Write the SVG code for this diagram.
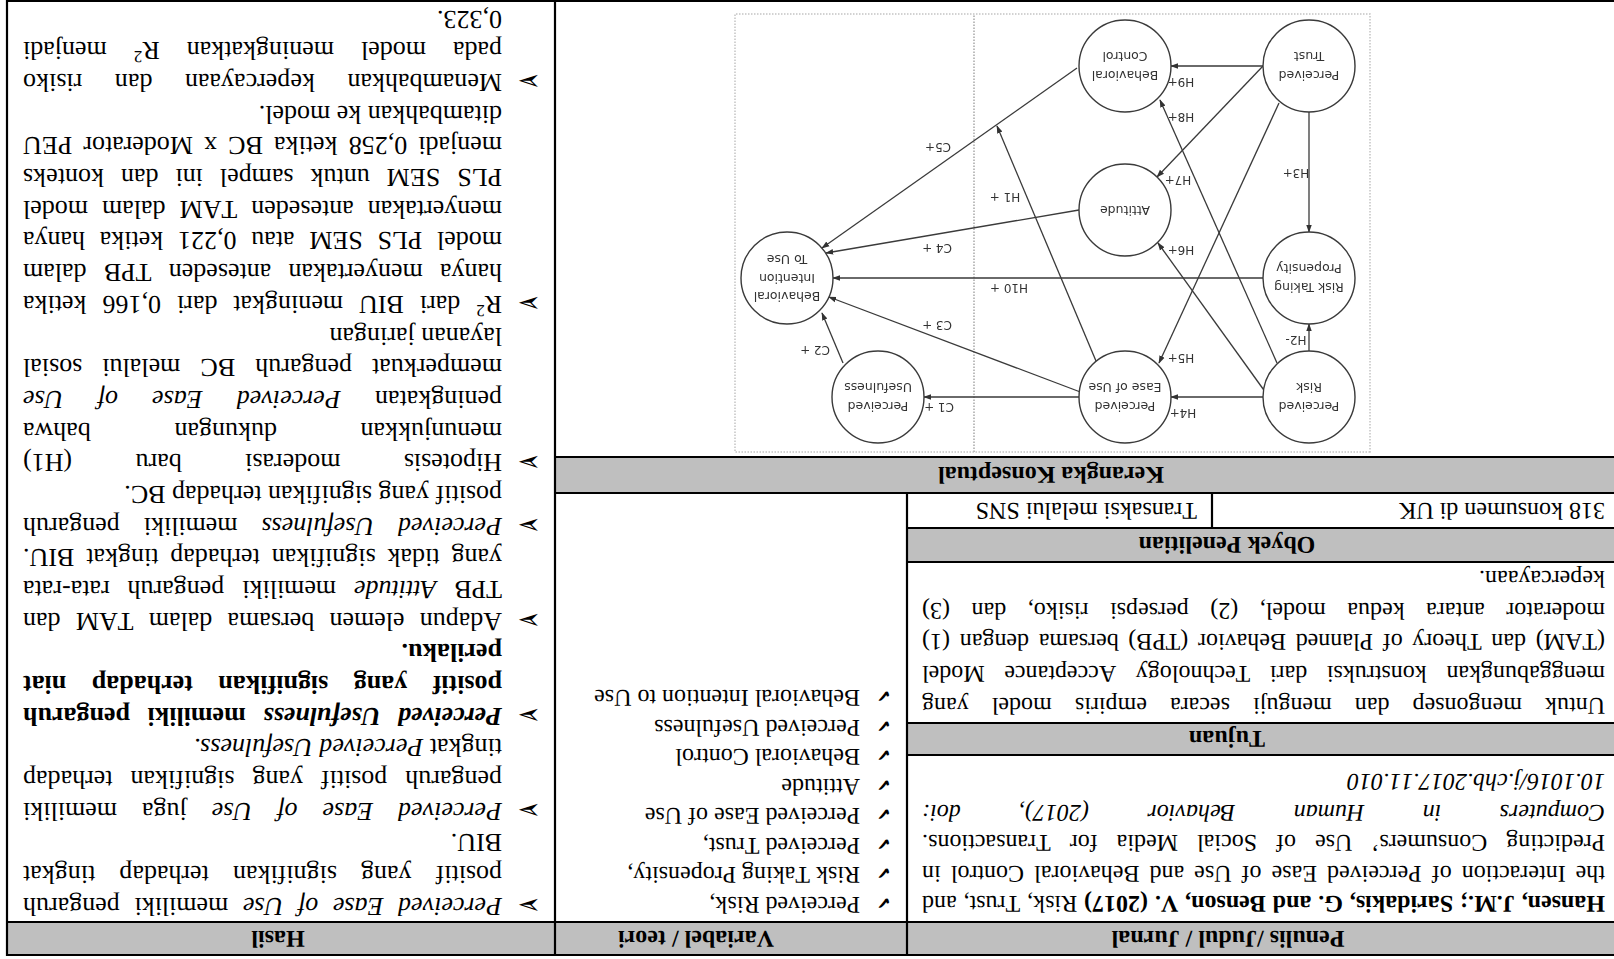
<svg xmlns="http://www.w3.org/2000/svg" width="1614" height="959" viewBox="0 0 1614 959">
<style>
.t{font-family:"Liberation Serif","Times New Roman",serif;font-size:24px;fill:#000;font-kerning:none;font-variant-ligatures:none;text-rendering:geometricPrecision}
.hs{font-size:26px}
.i{font-style:italic}
.b{font-weight:bold}
.hd{font-weight:bold;text-anchor:middle}
.sym{font-family:"DejaVu Sans",sans-serif;fill:#000}
.fill{fill:#bfbfbf}
.grid{stroke:#000;stroke-width:2.2;fill:none}
.e{stroke:#3a3a3a;stroke-width:1.3;fill:none;marker-end:url(#ah)}
.node circle{fill:#fff;stroke:#3a3a3a;stroke-width:1.4}
.node text,.lbl{font-family:"DejaVu Sans",Verdana,sans-serif;font-size:12.5px;fill:#333;text-anchor:middle}
.lbl{font-size:12px}
</style>
<defs>
<marker id="ah" viewBox="0 0 10 10" refX="9" refY="5" markerWidth="8" markerHeight="8" markerUnits="userSpaceOnUse" orient="auto">
<path d="M0,1.5 L10,5 L0,8.5 z" fill="#333"/>
</marker>
<filter id="soft" x="-2%" y="-2%" width="104%" height="104%"><feGaussianBlur stdDeviation="0.45"/></filter>
</defs>
<rect width="1614" height="959" fill="#fff"/>
<g transform="rotate(180 807 479.5)">
<!-- table shading and rules -->
<g id="table">
<rect class="fill" x="0" y="4" width="1607" height="33"/>
<rect class="fill" x="0" y="204" width="707" height="32"/>
<rect class="fill" x="0" y="397" width="707" height="34"/>
<rect class="fill" x="0" y="466" width="1059" height="36"/>
<path class="grid" d="M0,4H1607V958H0M0,37H1607M0,204H707M0,236H707M0,397H707M0,431H707M0,466H1059M0,502H1059M1059,4V958M707,4V466M402,431V466"/>
</g>
<!-- header cells -->
<g id="headers">
<text class="t hd" x="386" y="28.5">Penulis /Judul / Jurnal</text>
<text class="t hd" x="918" y="28.5">Variabel / teori</text>
<text class="t hd" x="1336" y="28.5">Hasil</text>
<text class="t hd" x="387" y="228">Tujuan</text>
<text class="t hd" x="387" y="422">Obyek Penelitian</text>
<text class="t hd" x="563" y="492">Kerangka Konseptual</text>
</g>
<!-- citation -->
<g id="citation">
<text class="t" x="9" y="63" word-spacing="0.89"><tspan class="b">Hansen, J.M.; Saridakis, G. and Benson, V. (2017)</tspan> Risk, Trust, and</text>
<text class="t" x="9" y="93.5" word-spacing="4.05">the Interaction of Perceived Ease of Use and Behavioral Control in</text>
<text class="t" x="9" y="124" word-spacing="13.01">Predicting Consumers’ Use of Social Media for Transactions.</text>
<text class="t i" x="9" y="154.5" word-spacing="52.34">Computers in Human Behavior (2017), doi:</text>
<text class="t i" x="9" y="185">10.1016/j.chb.2017.11.010</text>
</g>
<!-- purpose -->
<g id="tujuan">
<text class="t" x="9" y="261" word-spacing="17.11">Untuk mengonsep dan menguji secara empiris model yang</text>
<text class="t" x="9" y="293" word-spacing="13.56">menggabungkan konstruksi dari Technology Acceptance Model</text>
<text class="t" x="9" y="325" word-spacing="3.68">(TAM) dan Theory of Planned Behavior (TPB) bersama dengan (1)</text>
<text class="t" x="9" y="356.5" word-spacing="15.56">moderator antara kedua model, (2) persepsi risiko, dan (3)</text>
<text class="t" x="9" y="388">kepercayaan.</text>
</g>
<!-- research object -->
<g id="obyek">
<text class="t" x="9" y="456.5">318 konsumen di UK</text>
<text class="t" x="417" y="456.5">Transaksi melalui SNS</text>
</g>
<!-- variables -->
<g id="variabel">
<g class="sym" font-size="17">
<text x="723" y="62.5">✔</text><text x="723" y="92">✔</text><text x="723" y="121.5">✔</text><text x="723" y="151">✔</text>
<text x="723" y="180.5">✔</text><text x="723" y="210">✔</text><text x="723" y="239.5">✔</text><text x="723" y="269">✔</text>
</g>
<text class="t" x="754" y="62.5">Perceived Risk,</text>
<text class="t" x="754" y="92">Risk Taking Propensity,</text>
<text class="t" x="754" y="121.5">Perceived Trust,</text>
<text class="t" x="754" y="151">Perceived Ease of Use</text>
<text class="t" x="754" y="180.5">Attitude</text>
<text class="t" x="754" y="210">Behavioral Control</text>
<text class="t" x="754" y="239.5">Perceived Usefulness</text>
<text class="t" x="754" y="269">Behavioral Intention to Use</text>
</g>
<!-- results -->
<g id="hasil">
<g class="sym" font-size="28">
<text x="1073" y="63">➢</text><text x="1073" y="158">➢</text><text x="1073" y="253">➢</text><text x="1073" y="348">➢</text>
<text x="1073" y="443">➢</text><text x="1073" y="506.5">➢</text><text x="1073" y="665">➢</text><text x="1073" y="886.7">➢</text>
</g>
<text class="t hs" x="1112" y="61.3" word-spacing="8.14"><tspan class="i">Perceived Ease of Use</tspan> memiliki pengaruh</text>
<text class="t hs" x="1112" y="93" word-spacing="17.56">positif yang signifikan terhadap tingkat</text>
<text class="t hs" x="1112" y="124.7">BIU.</text>
<text class="t hs" x="1112" y="156.3" word-spacing="18.53"><tspan class="i">Perceived Ease of Use</tspan> juga memiliki</text>
<text class="t hs" x="1112" y="188" word-spacing="11.43">pengaruh positif yang signifikan terhadap</text>
<text class="t hs" x="1112" y="219.7">tingkat <tspan class="i">Perceived Usefulness.</tspan></text>
<text class="t hs b" x="1112" y="251.4" word-spacing="11.14"><tspan class="i">Perceived Usefulness</tspan> memiliki pengaruh</text>
<text class="t hs b" x="1112" y="283.1" word-spacing="18.98">positif yang signifikan terhadap niat</text>
<text class="t hs b" x="1112" y="314.7">perilaku.</text>
<text class="t hs" x="1112" y="346.4" word-spacing="8.72">Adapun elemen bersama dalam TAM dan</text>
<text class="t hs" x="1112" y="378.1" word-spacing="11.43">TPB <tspan class="i">Attitude</tspan> memiliki pengaruh rata-rata</text>
<text class="t hs" x="1112" y="409.8" word-spacing="5.39">yang tidak signifikan terhadap tingkat BIU.</text>
<text class="t hs" x="1112" y="441.5" word-spacing="17.41"><tspan class="i">Perceived Usefulness</tspan> memiliki pengaruh</text>
<text class="t hs" x="1112" y="473.1">positif yang signifikan terhadap BC.</text>
<text class="t hs" x="1112" y="504.8" word-spacing="56.89">Hipotesis moderasi baru (H1)</text>
<text class="t hs" x="1112" y="536.5" word-spacing="77.03">menunjukkan dukungan bahwa</text>
<text class="t hs" x="1112" y="568.2" word-spacing="27.69">peningkatan <tspan class="i">Perceived Ease of Use</tspan></text>
<text class="t hs" x="1112" y="599.9" word-spacing="13.59">memperkuat pengaruh BC melalui sosial</text>
<text class="t hs" x="1112" y="631.5">layanan jaringan</text>
<text class="t hs" x="1112" y="663.2" word-spacing="9.45">R<tspan font-size="17" baseline-shift="super">2</tspan> dari BIU meningkat dari 0,166 ketika</text>
<text class="t hs" x="1112" y="694.9" word-spacing="10.72">hanya menyertakan anteseden TPB dalam</text>
<text class="t hs" x="1112" y="726.6" word-spacing="8.22">model PLS SEM atau 0,221 ketika hanya</text>
<text class="t hs" x="1112" y="758.3" word-spacing="7.47">menyertakan anteseden TAM dalam model</text>
<text class="t hs" x="1112" y="789.9" word-spacing="10.5">PLS SEM untuk sampel ini dan konteks</text>
<text class="t hs" x="1112" y="821.6" word-spacing="4.61">menjadi 0,258 ketika BC x Moderator PEU</text>
<text class="t hs" x="1112" y="853.3">ditambahkan ke model.</text>
<text class="t hs" x="1112" y="885" word-spacing="26.1">Menambahkan kepercayaan dan risiko</text>
<text class="t hs" x="1112" y="916.7" word-spacing="20.5">pada model meningkatkan R<tspan font-size="17" baseline-shift="super">2</tspan> menjadi</text>
<text class="t hs" x="1112" y="948.3">0,323.</text>
</g>
<!-- conceptual framework diagram -->
<g id="framework" filter="url(#soft)">
<rect x="244" y="507" width="635" height="438" fill="#fff" stroke="#c4c4c4" stroke-width="1.5" stroke-dasharray="1.5 1.5"/>
<line x1="640" y1="507" x2="640" y2="945" stroke="#bdbdbd" stroke-width="2" stroke-dasharray="1.5 1.5"/>
<g id="connectors">
<line class="e" x1="351" y1="562" x2="443" y2="562"/>
<line class="e" x1="305" y1="608" x2="305" y2="635"/>
<line class="e" x1="305" y1="847" x2="305" y2="727"/>
<line class="e" x1="351" y1="893" x2="443" y2="893"/>
<line class="e" x1="351" y1="893" x2="457" y2="782"/>
<line class="e" x1="335" y1="856" x2="455" y2="596"/>
<line class="e" x1="348" y1="566" x2="456" y2="716"/>
<line class="e" x1="337" y1="596" x2="454" y2="859"/>
<line class="e" x1="351" y1="681" x2="781" y2="681"/>
<line class="e" x1="531" y1="566" x2="785" y2="662"/>
<line class="e" x1="535" y1="562" x2="690" y2="562"/>
<line class="e" x1="771" y1="596" x2="792" y2="646"/>
<line class="e" x1="535" y1="749" x2="788" y2="706"/>
<line class="e" x1="537" y1="891" x2="792" y2="711"/>
<line class="e" x1="518" y1="598" x2="617" y2="833"/>
<text class="lbl" x="431" y="550">H4+</text>
<text class="lbl" x="318" y="623">H2-</text>
<text class="lbl" x="318" y="790">H3+</text>
<text class="lbl" x="433" y="881">H9+</text>
<text class="lbl" x="433" y="846">H8+</text>
<text class="lbl" x="436" y="783">H7+</text>
<text class="lbl" x="433" y="713">H6+</text>
<text class="lbl" x="433" y="605">H5+</text>
<text class="lbl" x="605" y="675">H10 +</text>
<text class="lbl" x="609" y="766">H1 +</text>
<text class="lbl" x="676" y="816">C5+</text>
<text class="lbl" x="677" y="715">C4 +</text>
<text class="lbl" x="677" y="638">C3 +</text>
<text class="lbl" x="675" y="556">C1 +</text>
<text class="lbl" x="799" y="613">C2 +</text>
</g>
<g id="n-risk" class="node"><circle cx="305" cy="562" r="46"/><text x="305" y="557.3">Perceived</text><text x="305" y="575.8">Risk</text></g>
<g id="n-rtp" class="node"><circle cx="305" cy="681" r="46"/><text x="305" y="676.3">Risk Taking</text><text x="305" y="694.8">Propensity</text></g>
<g id="n-trust" class="node"><circle cx="305" cy="893" r="46"/><text x="305" y="888.3">Perceived</text><text x="305" y="906.8">Trust</text></g>
<g id="n-peu" class="node"><circle cx="489" cy="562" r="46"/><text x="489" y="557.3">Perceived</text><text x="489" y="575.8">Ease of Use</text></g>
<g id="n-att" class="node"><circle cx="489" cy="749" r="46"/><text x="489" y="753.5">Attitude</text></g>
<g id="n-bc" class="node"><circle cx="489" cy="893" r="46"/><text x="489" y="888.3">Behavioral</text><text x="489" y="906.8">Control</text></g>
<g id="n-pu" class="node"><circle cx="736" cy="562" r="46"/><text x="736" y="557.3">Perceived</text><text x="736" y="575.8">Usefulness</text></g>
<g id="n-bi" class="node"><circle cx="827" cy="681" r="46"/><text x="827" y="667">Behavioral</text><text x="827" y="685.5">Intention</text><text x="827" y="704">To Use</text></g>
</g>
</g>
</svg>
